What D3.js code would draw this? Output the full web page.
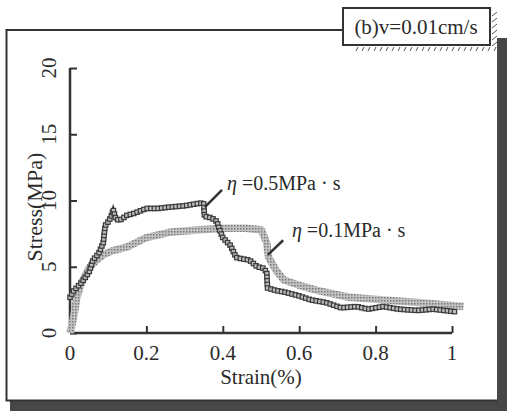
<!DOCTYPE html>
<html>
<head>
<meta charset="utf-8">
<script src="https://cdn.jsdelivr.net/npm/d3@7"></script>
<style>
  body { margin: 0; background: #fff; }
  text { font-family: "Liberation Serif", "Times New Roman", serif; fill: #2a2a2a; }
</style>
</head>
<body>
<div id="chart"></div>
<script>
// eta = 0.5 MPa.s (dark, square markers)
var strain05 = [0, 0.01, 0.03, 0.05, 0.06, 0.075, 0.087, 0.092, 0.1, 0.108, 0.113, 0.12, 0.13, 0.15, 0.165, 0.2, 0.23, 0.26, 0.3, 0.34, 0.35, 0.352, 0.37, 0.385, 0.39, 0.4, 0.42, 0.435, 0.45, 0.47, 0.49, 0.505, 0.515, 0.517, 0.54, 0.56, 0.6, 0.63, 0.67, 0.71, 0.75, 0.78, 0.82, 0.86, 0.91, 0.95, 1.01];
var stress05 = [2.7, 3.2, 3.8, 4.6, 5.5, 6.0, 6.8, 8.1, 8.4, 8.8, 9.3, 8.6, 8.5, 8.9, 9.0, 9.4, 9.4, 9.5, 9.6, 9.8, 9.8, 8.8, 8.7, 8.4, 7.9, 7.2, 6.6, 5.7, 5.6, 5.5, 5.0, 4.9, 4.6, 3.4, 3.2, 3.1, 2.8, 2.5, 2.3, 1.9, 2.0, 1.8, 2.0, 1.8, 1.7, 1.8, 1.6];

// eta = 0.1 MPa.s (light gray, dotted band)
var strain01 = [0, 0.005, 0.01, 0.018, 0.03, 0.052, 0.07, 0.087, 0.11, 0.15, 0.2, 0.26, 0.3, 0.34, 0.41, 0.46, 0.5, 0.505, 0.515, 0.52, 0.54, 0.56, 0.6, 0.65, 0.73, 0.82, 0.91, 1.03];
var stress01 = [0, 0.6, 1.3, 2.7, 3.8, 5.0, 5.5, 5.9, 6.2, 6.5, 7.2, 7.6, 7.7, 7.8, 7.9, 7.9, 7.8, 7.5, 6.8, 5.7, 4.7, 4.0, 3.6, 3.2, 2.7, 2.5, 2.3, 2.0];

var xTicks = [0, 0.2, 0.4, 0.6, 0.8, 1];
var yTicks = [0, 5, 10, 15, 20];

var W = 507, H = 411;
var svg = d3.select("#chart").append("svg")
    .attr("width", W)
    .attr("height", H);

// pattern for the gray dotted band
var defs = svg.append("defs");
var pat = defs.append("pattern")
    .attr("id", "dots")
    .attr("width", 3).attr("height", 3)
    .attr("patternUnits", "userSpaceOnUse");
pat.append("rect").attr("width", 3).attr("height", 3).attr("fill", "#c2c2c2");
pat.append("rect").attr("width", 1.5).attr("height", 1.5).attr("fill", "#787878");

// frame with shadow
svg.append("rect").attr("x", 497).attr("y", 38).attr("width", 10).attr("height", 373).attr("fill", "#474747");
svg.append("rect").attr("x", 10).attr("y", 401).attr("width", 497).attr("height", 10).attr("fill", "#474747");
svg.append("path")
    .attr("d", "M343,30 H6.5 V400.5 H497")
    .attr("fill", "none").attr("stroke", "#333").attr("stroke-width", 2);

// title box
svg.append("rect").attr("x", 343).attr("y", 8).attr("width", 147).attr("height", 37)
    .attr("fill", "#fff").attr("stroke", "#333").attr("stroke-width", 2);
svg.append("text").attr("x", 416).attr("y", 34).attr("text-anchor", "middle")
    .style("font-size", "21px").text("(b)v=0.01cm/s");

// hatching beside/below the title box
var hatch = svg.append("g").attr("stroke", "#555").attr("stroke-width", 1);
d3.range(12, 46, 6).forEach(function (yy) {
    hatch.append("line").attr("x1", 492).attr("y1", yy + 4).attr("x2", 497).attr("y2", yy);
});
d3.range(356, 498, 6).forEach(function (xx) {
    hatch.append("line").attr("x1", xx).attr("y1", 51).attr("x2", xx + 2).attr("y2", 47);
});

// scales
var x = d3.scaleLinear().domain([0, 1]).range([70, 452]);
var y = d3.scaleLinear().domain([0, 20]).range([333, 68]);

var axisG = svg.append("g");
// x axis, ticks pointing inward
axisG.append("g")
    .attr("transform", "translate(0," + y(0) + ")")
    .call(d3.axisTop(x).tickValues(xTicks).tickSize(7).tickFormat(""))
    .call(function (g) {
        g.select(".domain").attr("stroke", "#333").attr("stroke-width", 2.5).attr("d", "M" + x(0) + ",0H" + x(1));
        g.selectAll(".tick line").attr("stroke", "#333").attr("stroke-width", 2);
    });
axisG.selectAll(".xl").data(xTicks).enter().append("text")
    .attr("x", function (d) { return x(d); })
    .attr("y", y(0) + 27)
    .attr("text-anchor", "middle")
    .style("font-size", "21px")
    .text(function (d) { return d3.format("")(d); });

// y axis, ticks pointing inward
axisG.append("g")
    .attr("transform", "translate(" + x(0) + ",0)")
    .call(d3.axisRight(y).tickValues(yTicks).tickSize(7).tickFormat(""))
    .call(function (g) {
        g.select(".domain").attr("stroke", "#333").attr("stroke-width", 2.5).attr("d", "M0," + y(0) + "V" + y(20));
        g.selectAll(".tick line").attr("stroke", "#333").attr("stroke-width", 2);
    });
axisG.selectAll(".yl").data(yTicks).enter().append("text")
    .attr("transform", function (d) { return "translate(" + (x(0) - 14) + "," + y(d) + ") rotate(-90)"; })
    .attr("text-anchor", "middle")
    .style("font-size", "21px")
    .text(function (d) { return d; });

svg.append("text")
    .attr("transform", "translate(42," + y(9.5) + ") rotate(-90)")
    .attr("text-anchor", "middle")
    .style("font-size", "22px")
    .text("Stress(MPa)");
svg.append("text")
    .attr("x", x(0.5)).attr("y", 384)
    .attr("text-anchor", "middle")
    .style("font-size", "21px")
    .text("Strain(%)");

// curves
var line = d3.line()
    .x(function (d) { return x(d[0]); })
    .y(function (d) { return y(d[1]); });

var pts01 = strain01.map(function (s, i) { return [s, stress01[i]]; });
var pts05 = strain05.map(function (s, i) { return [s, stress05[i]]; });

svg.append("path").datum(pts01)
    .attr("d", line)
    .attr("fill", "none")
    .attr("stroke", "url(#dots)")
    .attr("stroke-width", 7.5)
    .attr("stroke-linejoin", "round");

var p05 = svg.append("path").datum(pts05)
    .attr("d", line)
    .attr("fill", "none")
    .attr("stroke", "#3a3a3a")
    .attr("stroke-width", 3.5);

// hollow square markers along the dark curve
var node = p05.node(), len = node.getTotalLength();
var marks = d3.range(0, len, 3.6).map(function (l) { return node.getPointAtLength(l); });
svg.append("g").selectAll("rect").data(marks).enter().append("rect")
    .attr("x", function (d) { return d.x - 2.2; })
    .attr("y", function (d) { return d.y - 2.2; })
    .attr("width", 4.4).attr("height", 4.4)
    .attr("fill", "#bdbdbd")
    .attr("stroke", "#3a3a3a")
    .attr("stroke-width", 1.2);

// annotations
var ann = [
    { from: [0.353, 9.5], to: [0.398, 10.8], at: [0.411, 10.8], value: "0.5" },
    { from: [0.518, 5.9], to: [0.558, 7.0], at: [0.581, 7.25], value: "0.1" }
];
ann.forEach(function (a) {
    svg.append("line")
        .attr("x1", x(a.from[0])).attr("y1", y(a.from[1]))
        .attr("x2", x(a.to[0])).attr("y2", y(a.to[1]))
        .attr("stroke", "#333").attr("stroke-width", 2.5);
    var t = svg.append("text")
        .attr("x", x(a.at[0])).attr("y", y(a.at[1]))
        .style("font-size", "20px");
    t.append("tspan").style("font-style", "italic").text("\u03b7");
    t.append("tspan").text(" =" + a.value + "MPa \u00b7 s");
});
</script>
</body>
</html>
